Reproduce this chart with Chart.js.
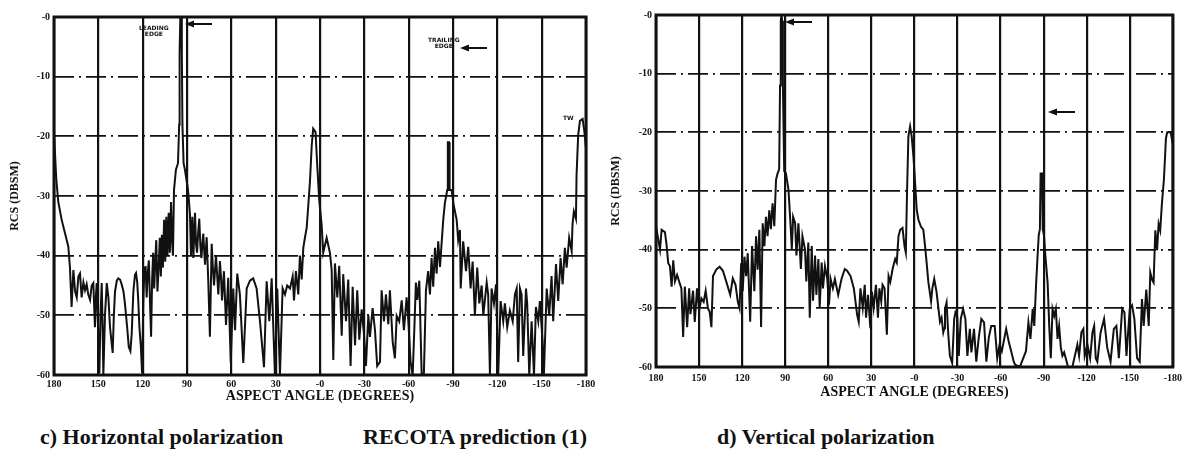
<!DOCTYPE html>
<html>
<head>
<meta charset="utf-8">
<title>RCS vs aspect angle</title>
<script src="https://cdn.jsdelivr.net/npm/chart.js@4.4.1/dist/chart.umd.min.js"></script>
<style>
  html, body { margin: 0; padding: 0; background: #fff; }
  #page { position: relative; width: 1187px; height: 457px; overflow: hidden; font-family: "Liberation Serif", "Times New Roman", Times, serif; color: #111; }
  canvas { position: absolute; top: 0; }
  #hCanvas { left: 0; }
  #vCanvas { left: 600px; }
  .caption { position: absolute; top: 426px; font-size: 22px; line-height: 22px; font-weight: bold; white-space: nowrap; }
  .note { position: absolute; font-family: "DejaVu Sans", sans-serif; font-size: 6px; line-height: 6px; font-weight: bold; text-align: center; white-space: nowrap; }
  .arrow { position: absolute; }
</style>
</head>
<body>
<div id="page">
  <canvas id="hCanvas" width="600" height="410"></canvas>
  <canvas id="vCanvas" width="587" height="410"></canvas>

  <div class="note" style="left:139px;top:25px;">LEADING<br>EDGE</div>
  <svg class="arrow" style="left:185px;top:20px" width="27" height="8"><path d="M0 4 L9 0.5 L9 7.5 Z" fill="#111"/><rect x="7" y="3" width="20" height="2" fill="#111"/></svg>
  <div class="note" style="left:428px;top:37px;">TRAILING<br>EDGE</div>
  <svg class="arrow" style="left:460px;top:44px" width="27" height="8"><path d="M0 4 L9 0.5 L9 7.5 Z" fill="#111"/><rect x="7" y="3" width="20" height="2" fill="#111"/></svg>
  <div class="note" style="left:563px;top:115px;">TW</div>
  <svg class="arrow" style="left:785px;top:18px" width="27" height="8"><path d="M0 4 L9 0.5 L9 7.5 Z" fill="#111"/><rect x="7" y="3" width="20" height="2" fill="#111"/></svg>
  <svg class="arrow" style="left:1048px;top:108px" width="27" height="8"><path d="M0 4 L9 0.5 L9 7.5 Z" fill="#111"/><rect x="7" y="3" width="20" height="2" fill="#111"/></svg>

  <div class="caption" style="left:40px;">c) Horizontal polarization</div>
  <div class="caption" style="left:363px;">RECOTA prediction (1)</div>
  <div class="caption" style="left:717px;">d) Vertical polarization</div>
</div>

<script>
// RECOTA prediction, RCS (dBsm) vs aspect angle (deg)

const xTickLabels = ['180', '150', '120', '90', '60', '30', '-0', '-30', '-60', '-90', '-120', '-150', '-180'];
const yTickLabels = ['-0', '-10', '-20', '-30', '-40', '-50', '-60'];

// c) horizontal polarization
const hAngles = [
  180, 178.5, 177.1, 174.8, 172.6, 170.3, 169.2, 168.1, 166.9, 165.7, 164.6, 163.5, 162.4, 161.3, 160.1, 159,
  157.9, 156.8, 155.6, 154.5, 153.4, 152.3, 151.7, 151.1, 150.2, 149.3, 148.5, 147.7, 147.1, 146.6, 145.5, 144.3,
  143.2, 142.1, 140.3, 139.5, 138.7, 137.5, 136.5, 135.3, 134.2, 133, 132, 130.5, 129.4, 128.3, 127.4, 126.3,
  125.2, 124.5, 123.7, 123, 122.2, 121.2, 120.4, 119.6, 118.8, 118, 117.3, 116.6, 115.8, 115, 114.3, 113.6,
  112.9, 112.2, 111.5, 110.8, 110, 109.2, 108.4, 107.7, 107, 106.3, 105.5, 104.7, 104, 103.2, 102.4, 101.6,
  100.8, 100, 99.5, 98.8, 97.5, 96.1, 95.3, 95, 94.5, 94, 93.5, 93.1, 92.3, 91.4, 89.3, 88, 87.3,
  86.4, 85.7, 84.6, 83.9, 83.2, 82.4, 81.7, 80.9, 80.2, 79.6, 79, 78.4, 77.8, 76.7, 75.6, 74.5,
  73.3, 72.5, 71.7, 70.4, 68.8, 67.7, 66.9, 66.3, 65, 63.6, 62.1, 60.4, 58.7, 57.5, 56, 54.2,
  51.9, 49.6, 47.4, 45.2, 42.9, 40.6, 37.9, 36.1, 34.3, 32.7, 31.6, 30.5, 28.9, 27.1, 25.3, 23.7,
  22.2, 20.3, 18.5, 17.6, 16.3, 14.7, 13.6, 12.4, 11.3, 10.2, 9, 7.9, 6.8, 5.6, 4.6, 3,
  1.9, 0.5, -1.1, -2.2, -4.5, -6.7, -7.9, -9, -10.1, -11.7, -13, -14.7, -15.7, -17.6, -19.1, -20.7,
  -22.1, -23.7, -25.2, -26.6, -28.2, -29.7, -31.1, -32.7, -33.8, -35.6, -37.2, -38.7, -40.6, -41.7, -43.3, -44.6,
  -46.2, -47.3, -49.2, -50.7, -51.9, -53.6, -55.3, -56.8, -58.6, -59.7, -61.3, -62.7, -63.8, -64.9, -65.8, -67.2,
  -68.8, -70.3, -71.7, -73.2, -74.4, -75.5, -76.6, -77.8, -78.9, -80, -81.2, -82.3, -83.4, -84.5, -86.1, -86.5,
  -87.3, -87.7, -89.1, -90.2, -92.5, -93.5, -94.7, -95.2, -96.9, -98.8, -100.3, -101.9, -103.3, -104.8, -106.4, -107.8,
  -109.4, -110.5, -112.8, -113.8, -115, -116.1, -117.7, -119.1, -120.6, -122.2, -124, -125.1, -126.7, -128.5, -130.4, -131.9,
  -133.1, -134.1, -135.3, -136.4, -137.5, -139.4, -140.2, -141.6, -143.2, -144.8, -146.1, -147.7, -148.8, -150.6, -151.5, -153.4,
  -155.1, -156.7, -157.8, -159.7, -161.2, -162.8, -164.2, -165.7, -166.9, -168.6, -170.3, -170.9, -171.8, -173.2, -173.6, -174.7,
  -175.9, -177.7, -178.8, -180
];
const hRcs = [
  -19.5, -27, -31, -34, -36.2, -38.5, -42, -48.6, -42.4, -46, -47, -43.5, -43, -47, -44.5, -45.8,
  -44.8, -46.5, -47.4, -45, -44.6, -52, -47, -44.6, -52, -59.7, -50, -44.6, -52, -60, -50, -44.6,
  -47, -52, -56.3, -50, -46, -44.2, -43.8, -44, -44.8, -46, -48, -52, -55.3, -56, -53, -46,
  -43.2, -42.9, -44.4, -47.4, -52, -55.3, -59.7, -48, -42, -41.9, -47, -43, -40.8, -48, -53.6, -44,
  -39.5, -45.5, -41, -37.4, -46, -42, -37, -43.5, -36.5, -42, -34, -41, -33.5, -40, -32.8, -39.5,
  -31, -38, -40, -29, -25.6, -24.5, -18, -6, 0, 0, -6, -18, -24.5, -25.6, -29, -33, -40,
  -33.5, -40.4, -32.8, -38, -39.5, -36, -33.8, -38.5, -40.4, -38, -36.3, -39, -41.5, -36.9, -44.3, -53.6,
  -38, -42, -45, -40, -46.5, -40.9, -44, -47.5, -42.6, -51.6, -43.7, -58, -45.5, -52.5, -43, -46.5,
  -58, -45.5, -44.2, -43.8, -45.5, -51, -58.7, -44.3, -51, -43.8, -52, -60, -45.5, -60, -45.5, -46.5,
  -45, -45.5, -43.5, -47.5, -42.6, -46.5, -40, -44, -38.7, -37, -35.3, -31.5, -27.6, -21.5, -18.7, -19.3,
  -24.7, -30.8, -34.8, -39.5, -37, -39.5, -42.4, -57.5, -41.3, -47, -41.7, -53.4, -43.1, -51, -44, -58.5,
  -45.2, -55, -45.8, -54.1, -49, -53, -58.5, -50, -53.6, -48.8, -52.5, -58.5, -57.8, -45.8, -51, -46.5,
  -51.5, -45.8, -54.5, -57.2, -50.1, -51, -47.5, -52.5, -47, -50.7, -57.8, -60, -52.5, -44.5, -47.4, -44.2,
  -60, -59.7, -45.8, -42.6, -46.5, -40.4, -45.2, -38.7, -43, -37.6, -41.9, -37.9, -34, -31.2, -29, -21,
  -21, -29, -29, -31.2, -34, -37.4, -35.7, -45.5, -37.6, -42.6, -38.5, -45.5, -41, -50, -42, -48,
  -45, -50, -44.5, -46.5, -60, -45.5, -48, -44.8, -60, -47.6, -51, -48, -52, -49.2, -51, -46.5,
  -45.5, -57.8, -45.5, -46.5, -56.8, -45.5, -48, -60, -51, -60, -48.6, -51, -47.6, -54.4, -60, -45.5,
  -50, -43.4, -51, -41.4, -47.6, -40.4, -44.8, -38.7, -42, -37, -39.2, -34.7, -32.6, -33.8, -26.6, -19.8,
  -17.4, -17.1, -19, -22
];

// d) vertical polarization
const vAngles = [
  180, 177.2, 176.1, 173.8, 172.7, 171.5, 170.3, 169.1, 168, 166.8, 165.3, 163.4, 162.3, 161.1, 159.9, 158.3,
  156.9, 156, 154.2, 153, 151.4, 150, 148.4, 146.8, 145.4, 143.8, 142.6, 141.4, 140.3, 138, 135.7, 133.4,
  131.1, 128.3, 126.5, 124.6, 123, 121.8, 120.7, 119.6, 118.4, 117.2, 116.1, 114.4, 113.1, 111.5, 110.3, 109.2,
  108, 106.8, 105.7, 104.5, 103.4, 102.3, 101.1, 100, 98.8, 97.6, 96.4, 95.3, 94.2, 93.6, 93.1, 92.6,
  92.1, 91.6, 90.7, 89.5, 87.7, 86.1, 85.4, 84.5, 83.1, 82.2, 80.8, 79.1, 78, 76.2, 75.3, 73.9,
  72.9, 71.5, 70.6, 69.2, 68.3, 66.9, 66, 64.6, 63.7, 62.3, 60.7, 59.5, 58.4, 56.8, 55.4, 53.1,
  50.8, 48.5, 46.9, 44.5, 42.2, 39.9, 38.8, 37.6, 36, 34.6, 33.7, 32.3, 30.7, 29.6, 28.4, 26.8,
  25.4, 24.4, 23.1, 22.2, 20.8, 19.2, 18, 16.8, 15.2, 13.4, 12.3, 11.1, 9.9, 8.3, 6.9, 6,
  5.1, 4.2, 3, 1.9, 0.7, -0.5, -1.6, -2.8, -4.6, -6.2, -7.4, -8.5, -9.7, -11.6, -12.5, -13.8,
  -15.4, -17.8, -18.9, -20.1, -20.8, -21.3, -22.4, -23.5, -24.7, -26.3, -27.7, -28.6, -29.8, -30.9, -32.3, -33.9,
  -35.5, -36.9, -38.6, -39.7, -41.5, -43.1, -44.8, -46.6, -48.5, -50.1, -51.8, -53.5, -55.9, -57.7, -59.3, -60.9,
  -63.9, -65.8, -67.4, -69.2, -70.1, -73.4, -77.7, -79.4, -80.8, -82.4, -83.5, -84.7, -85.8, -86.6, -87.4, -87.9,
  -88.9, -89.4, -90.2, -91.2, -92.8, -93.9, -95, -96.2, -97.4, -98.5, -99.7, -100.8, -102, -103.1, -104.3, -105.4,
  -107, -110, -113.5, -114.7, -116.3, -117.7, -118.6, -120.5, -122.4, -124, -125.2, -126.3, -127.4, -129.7, -132.1, -134.3,
  -136.6, -138.9, -140.7, -142.4, -144.7, -146.3, -147.7, -150, -151.6, -153.2, -155.1, -156.9, -158.5, -159.7, -161.5, -163.2,
  -164.3, -165.5, -166.6, -167.8, -169, -170.1, -171.2, -172.4, -173.8, -175.2, -176.1, -178.5, -180
];
const vRcs = [
  -36, -40, -36.6, -37, -39, -42.3, -42.8, -46.3, -41.8, -45.4, -44.3, -45.8, -46.6, -54.9, -46.3, -53.2,
  -46.6, -51, -47, -52.3, -46.6, -50.4, -48.3, -48.9, -47, -50, -50.6, -53.2, -44.5, -43.4, -42.9, -43.6,
  -45.4, -47.7, -44.9, -46, -48.9, -50, -42.3, -47.1, -41.2, -44.5, -40.6, -52.3, -39.4, -47.1, -37.7, -43.4,
  -36.6, -53.2, -35.5, -39.4, -34.4, -37.7, -33.3, -36.5, -32.1, -36, -28.1, -27, -26.3, -12, -1, 0,
  -1, -12, -26.6, -27, -29.8, -36.6, -40, -34.4, -35.5, -41, -35.5, -43.3, -37.7, -40, -45.4, -38.8,
  -51.6, -39.4, -48.7, -41, -47.7, -41.6, -49.9, -42.2, -46.6, -42.8, -45, -49.4, -45, -46.6, -45, -47.7,
  -45, -43.3, -43.6, -44.5, -46.6, -51.1, -52.3, -46.6, -49.9, -46, -51.6, -47.7, -53.4, -47.2, -49.9, -46,
  -51.6, -46.6, -48.8, -46, -46.6, -54.5, -44.5, -45.5, -43.3, -41.6, -42.2, -37.7, -36.6, -36.3, -39.4, -40.5,
  -29.8, -20.7, -19, -20.7, -24.1, -28.7, -33.2, -34.9, -36.1, -36.6, -39.4, -42.2, -45.5, -48.8, -46.6, -45,
  -47.2, -52.3, -51.6, -54.1, -53.4, -50.1, -49, -54.1, -58.1, -59.3, -51.8, -50.7, -51.3, -58.1, -51.8, -50.1,
  -51.8, -58.1, -53.5, -57.5, -53.5, -59.1, -55, -51.8, -52.4, -59.1, -55, -53, -53, -58.5, -56.2, -57.3,
  -53.5, -55.8, -57.3, -59.1, -59.6, -60, -57.3, -52.4, -55.2, -50.1, -53, -46.2, -41, -37.5, -36.5, -27,
  -27, -36.5, -37.5, -41, -45.7, -53, -58.5, -50.1, -51.3, -50.1, -55.2, -53, -56.7, -58.1, -57.5, -58.5,
  -60, -60, -56.2, -58.1, -54.1, -53.5, -58.1, -56.2, -58.5, -54.1, -53, -58.5, -59.1, -54.1, -51.8, -56.7,
  -59.1, -53.5, -53, -58.5, -50.1, -50.7, -58.1, -50.1, -49.5, -51.8, -58.5, -59.1, -48.4, -53, -46.8, -53,
  -43.9, -45.1, -45.6, -36.7, -40.1, -35.6, -36.7, -32.1, -28, -21, -20, -20, -22
];

const INK = '#111';
const SERIF = '"Liberation Serif", "Times New Roman", serif';

// thick frame round the plot area
const framePlugin = {
  id: 'frame',
  afterDraw(chart) {
    const { ctx, chartArea: a } = chart;
    ctx.save();
    ctx.strokeStyle = INK;
    ctx.lineWidth = 3;
    ctx.strokeRect(a.left, a.top, a.right - a.left, a.bottom - a.top);
    ctx.restore();
  }
};

function makeChart(id, angles, rcs, cfg) {
  const canvas = document.getElementById(id);
  return new Chart(canvas, {
    type: 'line',
    data: {
      datasets: [{
        data: angles.map((a, i) => ({ x: a, y: rcs[i] })),
        borderColor: INK,
        borderWidth: 2,
        pointRadius: 0,
        tension: 0,
        fill: false
      }]
    },
    options: {
      responsive: false,
      animation: false,
      events: [],
      layout: { padding: { top: cfg.top, right: cfg.right, left: 0, bottom: 0 } },
      plugins: { legend: { display: false }, tooltip: { enabled: false } },
      scales: {
        x: {
          type: 'linear',
          reverse: true,
          min: -180,
          max: 180,
          afterFit: (s) => { s.height = cfg.xAxisH; },
          grid: { color: INK, lineWidth: 2.2, drawTicks: false },
          border: { display: false },
          ticks: {
            stepSize: 30,
            padding: cfg.xTickPad,
            autoSkip: false,
            maxRotation: 0,
            color: INK,
            font: { family: SERIF, size: 10, weight: 'bold' },
            callback: (v) => xTickLabels[Math.round((180 - v) / 30)]
          },
          title: {
            display: true,
            text: 'ASPECT ANGLE (DEGREES)',
            color: INK,
            font: { family: SERIF, size: 14, weight: 'bold' },
            padding: { top: 0, bottom: cfg.xTitlePad }
          }
        },
        y: {
          min: -60,
          max: 0,
          afterFit: (s) => { s.width = cfg.yAxisW; },
          grid: { color: INK, lineWidth: 1.8, drawTicks: false },
          border: { display: false, dash: [20, 5, 2, 5] },
          ticks: {
            stepSize: 10,
            padding: 4,
            color: INK,
            font: { family: SERIF, size: 10, weight: 'bold' },
            callback: (v) => yTickLabels[Math.round(-v / 10)]
          },
          title: {
            display: true,
            text: 'RCS (DBSM)',
            color: INK,
            font: { family: SERIF, size: 12, weight: 'bold' },
            padding: { top: cfg.yTitlePad, bottom: 0 }
          }
        }
      }
    },
    plugins: [framePlugin]
  });
}

makeChart('hCanvas', hAngles, hRcs, { top: 17, right: 14, yAxisW: 54, xAxisH: 35, xTickPad: 3, xTitlePad: 5, yTitlePad: 8 });
makeChart('vCanvas', vAngles, vRcs, { top: 15, right: 11, yAxisW: 56, xAxisH: 43, xTickPad: 5, xTitlePad: 9, yTitlePad: 9 });
</script>
</body>
</html>
